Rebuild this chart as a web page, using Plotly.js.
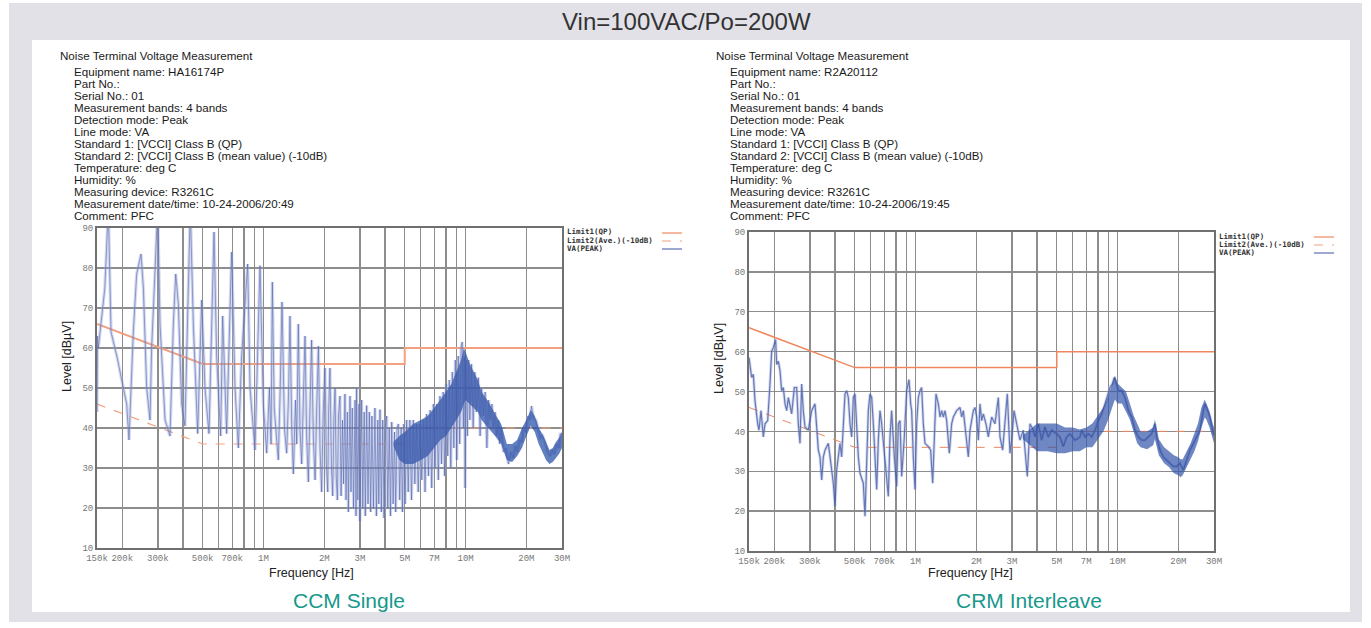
<!DOCTYPE html>
<html><head><meta charset="utf-8">
<script src="https://cdn.plot.ly/plotly-3.0.1.min.js"></script>
<style>html,body{margin:0;padding:0;background:#fff}#chart{width:1371px;height:628px}</style>
</head><body><div id="chart"></div>
<script>
// ---------- texts ----------
const pageTitle = 'Vin=100VAC/Po=200W';
const captions = ['CCM Single', 'CRM Interleave'];
const infoTitle = 'Noise Terminal Voltage Measurement';
const infoLeft = ['Equipment name: HA16174P','Part No.:','Serial No.: 01','Measurement bands: 4 bands','Detection mode: Peak','Line mode: VA','Standard 1: [VCCI] Class B (QP)','Standard 2: [VCCI] Class B (mean value) (-10dB)','Temperature: deg C','Humidity: %','Measuring device: R3261C','Measurement date/time: 10-24-2006/20:49','Comment: PFC'];
const infoRight = ['Equipment name: R2A20112','Part No.:','Serial No.: 01','Measurement bands: 4 bands','Detection mode: Peak','Line mode: VA','Standard 1: [VCCI] Class B (QP)','Standard 2: [VCCI] Class B (mean value) (-10dB)','Temperature: deg C','Humidity: %','Measuring device: R3261C','Measurement date/time: 10-24-2006/19:45','Comment: PFC'];
const legendNames = ['Limit1(QP)', 'Limit2(Ave.)(-10dB)', 'VA(PEAK)'];
const xTitle = 'Frequency [Hz]';
const yTitle = 'Level [dBµV]';

// ---------- ticks (frequency in MHz) ----------
const tickVals = [0.15,0.2,0.3,0.4,0.5,0.6,0.7,0.8,0.9,1,2,3,4,5,6,7,8,9,10,20,30];
const tickText = ['150k','200k','300k','','500k','','700k','','','1M','2M','3M','','5M','','7M','','','10M','20M','30M'];
const yTicks = [10,20,30,40,50,60,70,80,90];

// ---------- limits ----------
const limitFreq = [0.15, 0.5, 5, 5, 30];
const limit1 = [66, 56, 56, 60, 60];
const limit2 = [46, 36, 36, 40, 40];

// ---------- CCM Single (left) ----------
const ccmFreq = [0.150,0.151,0.1523,0.158,0.164,0.1707,0.176,0.188,0.1987,0.2103,0.216,0.2269,0.2357,0.2477,0.2544,0.2642,0.2744,0.2796,0.2904,0.2994,0.3075,0.3257,0.3446,0.3581,0.3678,0.379,0.3936,0.4088,0.4246,0.4344,0.4495,0.4725,0.4944,0.5134,0.5374,0.569,0.5865,0.6138,0.6279,0.6571,0.6957,0.7227,0.7508,0.7797,0.835,0.8577,0.9078,0.9608,0.998,
1.037,1.07,1.09,1.106,1.13,1.162,1.184,1.21,1.235,1.27,1.302,1.33,1.352,1.38,1.405,1.44,1.46,1.487,1.515,1.545,1.575,1.605,1.635,1.667,1.70,1.73,1.764,1.80,1.833,1.87,1.904,1.94,1.975,2.015,2.05,2.08,2.10,2.133,2.17,2.20,2.23,2.26,2.29,2.32,2.35,2.39,2.42,2.46,2.49,2.53,2.56,2.60,2.63,2.68,2.71,2.75,2.79,2.84,2.87,2.89,2.93,2.97,3.00,3.06,3.10,3.15,3.19,3.24,3.29,3.34,3.39,3.44,3.50,3.56,3.62,3.68,3.72,3.77,3.83,3.89,3.95,4.00,4.07,4.12,4.19,4.25,4.31,4.38,4.45,4.51,4.58,4.65,4.72,4.80,4.87,4.95,5.02,5.11,5.20,5.30,5.40,5.51,5.61,5.72,5.83,5.95,6.07,6.20,6.30,6.42,6.55,6.68,6.80,6.93,7.06,7.20,7.33,7.47,7.60,7.75,7.88,8.02,8.16,8.30,8.45,8.60,8.75,8.90,9.05,9.20,9.35,9.50,9.62,9.75,9.85,9.95,10.05,10.2,10.35,10.5,10.7,10.9,11.1,11.3,11.56,11.8,12.0,12.25,12.5,12.75,13.0,13.25,13.5,13.75,14.0,14.25,14.5,14.75,15.0,15.4,15.8,16.3,16.8,17.2,17.6,18.0,18.5,19.0,19.3,19.8,20.3,20.8,21.2,21.7,22.3,22.9,23.5,24.1,24.7,25.4,26.2,26.9,27.5,28.2,28.9,29.4,30.0];
const ccmLevel = [44,63,60,67,75,95,64,58,52,46,37,64,78.5,83.5,75,50,42,60,79,95,66,42,38,66,78.5,71,46,40.5,75,95,66,38.6,72,50,38.6,89,58,38,68,38.6,84,50,35,58,81,50,34.5,80.6,46,
33.7,50,36,76.5,45,37,32,50,71.5,40,33.7,48,68,40,28.5,47,36,66,40,31,47,63,38,26.5,46,62,38,27,45,60.5,35,24,44,55,30,24,44,55,30,23,42,50,28,22,43,48,23,42,26,48.5,22,44,19,48,24,45,20,47,18,50,22,46,16.7,47,20,44,18,45.6,21,44,19,43,20,45,18,42,21,44.6,19,42,17.5,40,43,20,40,18,41.5,21,39,19,40,41,22,40,19,41,21,42,24,42,22,42,26,41,24,41,27,42,24,43.5,28,44.5,25,46,30,46,27,48,31,49,28,51,33,52,30,54,35,57,32,58,36,60,61.5,40,58,25,57,38,57,42,56,40,54,44,52.6,38,50,43,49,35,47,42,46,40,44,38,42,36,40,34,35,31,34,32.5,35.5,34,37,36.5,40,39,43,42,45.5,42.5,42,40,37.5,38,36.6,34,33,34.5,33.5,36,35,38.5,38.5];
const ccmBandFreq = [4.4,4.7,5,5.5,6,6.5,7,7.5,8,8.5,9,9.5,9.8,10,10.5,11,11.5,12,13,14,15,15.5,16,17,18,19,20,21,22,23,24,25,26,27,28,29,30];
const ccmBandHigh = [36.5,38,39,41,42,43,45,47,49,51,54,57,60,59,56,54,52,49,46.5,43.5,41,38.5,36,36,37,40,42,44.5,43,40,38.5,36.5,34.5,35,36.5,37.5,39];
const ccmBandLow  = [35.5,32,31,31,32,33,35,37,38,40,42,44,46,47,46,45,44,42,40,38,36,34,32,31.5,33,35,38,40.5,39,36,34,32,31,31.5,32.5,33.5,35];

// ---------- CRM Interleave (right) ----------
const crmFreq = [0.150,0.1517,0.1546,0.1576,0.1606,0.1656,0.1681,0.172,0.1766,0.180,0.1856,0.1905,0.1942,0.1979,0.2032,0.2056,0.2095,0.2136,0.2176,0.2218,0.2261,0.2304,0.2348,0.2439,0.2514,0.2582,0.2631,0.2682,0.2733,0.2785,0.2839,0.2949,0.3063,0.3182,0.3243,0.3305,0.3368,0.3433,0.3499,0.3567,0.3704,0.3818,0.3921,0.3996,0.4073,0.4230,0.4311,0.4478,0.4564,0.4652,0.4741,0.4832,0.4925,0.5019,0.5115,0.5213,0.5313,0.5518,0.5625,0.5732,0.5843,0.5954,0.6069,0.6185,0.6305,0.6425,0.6548,0.6673,0.6802,0.7010,0.720,0.7337,0.7479,0.7621,0.7856,0.8069,0.8223,0.8382,0.8542,0.8805,0.9044,0.9286,0.9464,0.9572,0.9755,0.9943,
1.0132,1.0328,1.0525,1.0728,1.0932,1.1144,1.1575,1.1886,1.2160,1.2347,1.2631,1.2971,1.3221,1.3473,1.3733,1.3995,1.4266,1.4703,1.5097,1.5388,1.5984,1.6602,1.6919,1.7246,1.7913,1.8255,1.8608,1.9329,1.9698,2.0078,2.0462,2.0856,2.1246,2.1657,2.2325,2.2926,2.3813,2.4735,2.5697,2.6187,2.6996,2.772,2.847,2.935,2.991,3.072,3.167,3.289,3.416,3.482,3.575,3.686,3.828,3.902,4.052,4.209,4.372,4.542,4.717,4.994,5.187,5.388,5.596,5.813,6.153,6.515,
6.641,6.898,7.166,7.443,7.731,8.028,8.339,8.663,8.997,9.171,9.417,9.634,9.782,10.08,10.47,10.88,11.30,11.74,12.19,12.66,13.16,13.66,14.19,14.74,15.31,15.61,16.21,16.83,17.49,18.17,18.87,19.60,20.36,21.15,21.96,22.82,24.15,25.57,26.56,27.07,27.91,28.66,29.77,30.0];
const crmLevel = [58.5,56.8,53.5,54.3,47.7,41.9,40.3,45.2,38.6,41.9,42.7,51.9,60.1,61,63,56.8,57.6,55.2,50.2,51,46.9,45.2,48.5,44.4,51,51,41.9,37,51.9,45.2,41.1,40.3,45.2,46.9,41.9,35.3,33.6,27.8,33.6,35.3,37,32,27,21.2,30.3,37,33.6,49.4,50.2,48.5,41.9,38.6,48.5,49.4,40.3,33.6,29.5,27,18.7,30.3,45.2,49.4,48.5,41.9,32,25.4,37.8,45.2,41.9,35.3,28.7,23.7,38.6,45.2,33.6,26.2,41.9,42.7,28.7,38.6,50.2,53,46.9,45.2,33.6,25.4,
41.9,48.5,50.2,51,41.9,37,36.2,35.3,27,34.5,49.4,46.9,43.6,45.2,43.6,45.2,42.7,34.5,41.9,43.6,45.2,46,43.6,45.2,37.8,33.6,40.3,45.2,46,43.6,37.8,46.9,42.7,44.4,41.9,38.6,43.6,41.9,48.5,38.6,35.3,41.9,49.4,34.5,37.8,45.2,41.9,37.8,40.3,35.3,28.7,41.9,40.3,38.6,41.9,37.8,41.1,38.6,40.3,39.4,38.6,36.2,38.6,39.4,37.8,38.6,
40.3,38.6,39.4,38.6,40.3,42.7,44.4,46.9,49.4,51,51.9,53.5,52.7,50.2,50.2,48.5,45.2,43.6,40.3,38.6,37.8,37.8,38.6,39.4,41.9,38.6,35.3,33.6,32.8,32,31.2,31.2,32,30.3,32.8,35.3,37.8,40.3,45.2,46.9,45.2,43.6,39.4,39];
const crmBandFreq = [3.4,3.8,4,4.5,5,5.5,6,6.5,7,7.5,8,8.5,9,9.4,9.7,10,10.5,11,11.5,12,12.5,13,14,15,15.3,16,17,18,19,20,20.5,21,22,23,24,25,26,27,27.5,28.5,29.5,30];
const crmBandHigh = [39,41,42,42,42,41,41,40.5,41,42,44,46,49,52,54,52,51,50,47,44,42,40,40,41,43,38,36,35,34,33.5,33,33,35,37,39.5,42,46,48,47,45,42,41];
const crmBandLow  = [38,36,35,35,34.5,34.5,35,35,36,36,38,40,43,46,48,47,47,45,43,40,37,36,35.5,36.5,38,34,32,31,29.5,29,28.5,29,31,33,35,37.5,41,43.5,43,41,38.5,37];

// ---------- build ----------
const W = 1371, H = 628;
const px = x => x / W, py = y => 1 - y / H;
const orange = '#ee8660', orangeLight = '#f3a07e';

function bandTrace(f, hi, lo, xa, ya, color) {
  return {x: f.concat(f.slice().reverse()), y: hi.concat(lo.slice().reverse()), xaxis: xa, yaxis: ya,
    type: 'scatter', mode: 'lines', fill: 'toself', fillcolor: color, line: {width: 0}, hoverinfo: 'skip', showlegend: false};
}
function lineTrace(f, v, xa, ya, color, width, dash) {
  return {x: f, y: v, xaxis: xa, yaxis: ya, type: 'scatter', mode: 'lines', line: {color: color, width: width, dash: dash || 'solid'}, showlegend: false};
}

const traces = [
  lineTrace(limitFreq, limit1, 'x', 'y', orangeLight, 2),
  lineTrace(limitFreq, limit2, 'x', 'y', orangeLight, 1.2, 'dash'),
  lineTrace(ccmFreq, ccmLevel, 'x', 'y', 'rgba(160,170,218,0.45)', 3.2),
  bandTrace(ccmBandFreq, ccmBandHigh, ccmBandLow, 'x', 'y', 'rgba(38,78,168,0.72)'),
  lineTrace(ccmFreq, ccmLevel, 'x', 'y', 'rgba(75,95,172,0.55)', 1),
  lineTrace(limitFreq, limit1, 'x2', 'y2', orange, 1.5),
  lineTrace(limitFreq, limit2, 'x2', 'y2', orange, 1, 'dash'),
  lineTrace(crmFreq, crmLevel, 'x2', 'y2', 'rgba(160,170,218,0.45)', 3),
  bandTrace(crmBandFreq, crmBandHigh, crmBandLow, 'x2', 'y2', 'rgba(50,84,170,0.7)'),
  lineTrace(crmFreq, crmLevel, 'x2', 'y2', 'rgba(55,80,160,0.7)', 1.2)
];

const monoTick = {family: 'Liberation Mono, DejaVu Sans Mono, monospace', size: 9, color: '#777'};
const titleFont = {family: 'Liberation Sans, Arial, sans-serif', size: 12.5, color: '#222'};
function xAxis(domain, anchor) {
  return {type: 'log', domain: domain, anchor: anchor, range: [Math.log10(0.15), Math.log10(30)],
    tickmode: 'array', tickvals: tickVals, ticktext: tickText, tickfont: monoTick, ticks: '',
    showgrid: true, gridcolor: '#8d8d8d', gridwidth: 1.4, showline: true, linecolor: '#707070', linewidth: 2, mirror: true,
    zeroline: false};
}
function yAxis(domain, anchor) {
  return {domain: domain, anchor: anchor, range: [10, 90], tickmode: 'array', tickvals: yTicks, tickfont: monoTick, ticks: '',
    showgrid: true, gridcolor: '#8d8d8d', gridwidth: 1.4, showline: true, linecolor: '#707070', linewidth: 2, mirror: true,
    zeroline: false};
}

const annotations = [];
const shapes = [
  {type: 'rect', xref: 'paper', yref: 'paper', x0: px(9), x1: px(1362), y0: py(622), y1: py(3), fillcolor: '#e2e1e8', line: {width: 0}, layer: 'below'},
  {type: 'rect', xref: 'paper', yref: 'paper', x0: px(32), x1: px(1350), y0: py(612), y1: py(40), fillcolor: '#ffffff', line: {width: 0}, layer: 'below'}
];
const txt = (text, x, y, font, xanchor, angle) => ({text: text, x: px(x), y: py(y), xref: 'paper', yref: 'paper', showarrow: false,
  xanchor: xanchor || 'left', yanchor: 'middle', font: font, textangle: angle || 0, borderpad: 0});

annotations.push(txt(pageTitle, 686, 22, {family: 'Liberation Sans, Arial, sans-serif', size: 24, color: '#333'}, 'center'));
annotations.push(txt(captions[0], 349, 600, {family: 'Liberation Sans, Arial, sans-serif', size: 21, color: '#17988b'}, 'center'));
annotations.push(txt(captions[1], 1029, 600, {family: 'Liberation Sans, Arial, sans-serif', size: 21, color: '#17988b'}, 'center'));

// axis titles
annotations.push(txt(xTitle, 311, 573, titleFont, 'center'));
annotations.push(txt(xTitle, 970, 573, titleFont, 'center'));
annotations.push(txt(yTitle, 67, 357, titleFont, 'center', -90));
annotations.push(txt(yTitle, 719, 359, titleFont, 'center', -90));

const infoFont = {family: 'Liberation Sans, Arial, sans-serif', size: 11.6, color: '#1a1a1a'};
[[infoLeft, 59], [infoRight, 715]].forEach(([lines, x0]) => {
  annotations.push(txt(infoTitle, x0, 56, infoFont));
  lines.forEach((t, i) => annotations.push(txt(t, x0 + 14, 72 + i * 11.92, infoFont)));
});

const legFont = {family: 'DejaVu Sans Mono, monospace', size: 7.5, color: '#333', weight: 'bold'};
const legColors = [[orangeLight, 'solid', 1.5], [orangeLight, 'dash', 1.2], ['#6a78b8', 'solid', 1.3]];
[[566, 232, 662], [1218, 236, 1314]].forEach(([lx, ly, sx]) => {
  legendNames.forEach((n, i) => {
    annotations.push(txt(n, lx, ly + i * 8, legFont));
    shapes.push({type: 'line', xref: 'paper', yref: 'paper', x0: px(sx), x1: px(sx + 20), y0: py(ly + i * 8 + 1), y1: py(ly + i * 8 + 1),
      line: {color: legColors[i][0], dash: legColors[i][1], width: legColors[i][2]}});
  });
});

const layout = {
  width: W, height: H, margin: {l: 0, r: 0, t: 0, b: 0}, paper_bgcolor: '#ffffff', plot_bgcolor: '#ffffff', showlegend: false,
  xaxis: xAxis([px(97), px(562)], 'y'), yaxis: yAxis([py(548), py(228)], 'x'),
  xaxis2: xAxis([px(749), px(1214)], 'y2'), yaxis2: yAxis([py(551), py(232)], 'x2'),
  annotations: annotations, shapes: shapes
};
Plotly.newPlot('chart', traces, layout, {displayModeBar: false, staticPlot: true});
</script></body></html>
